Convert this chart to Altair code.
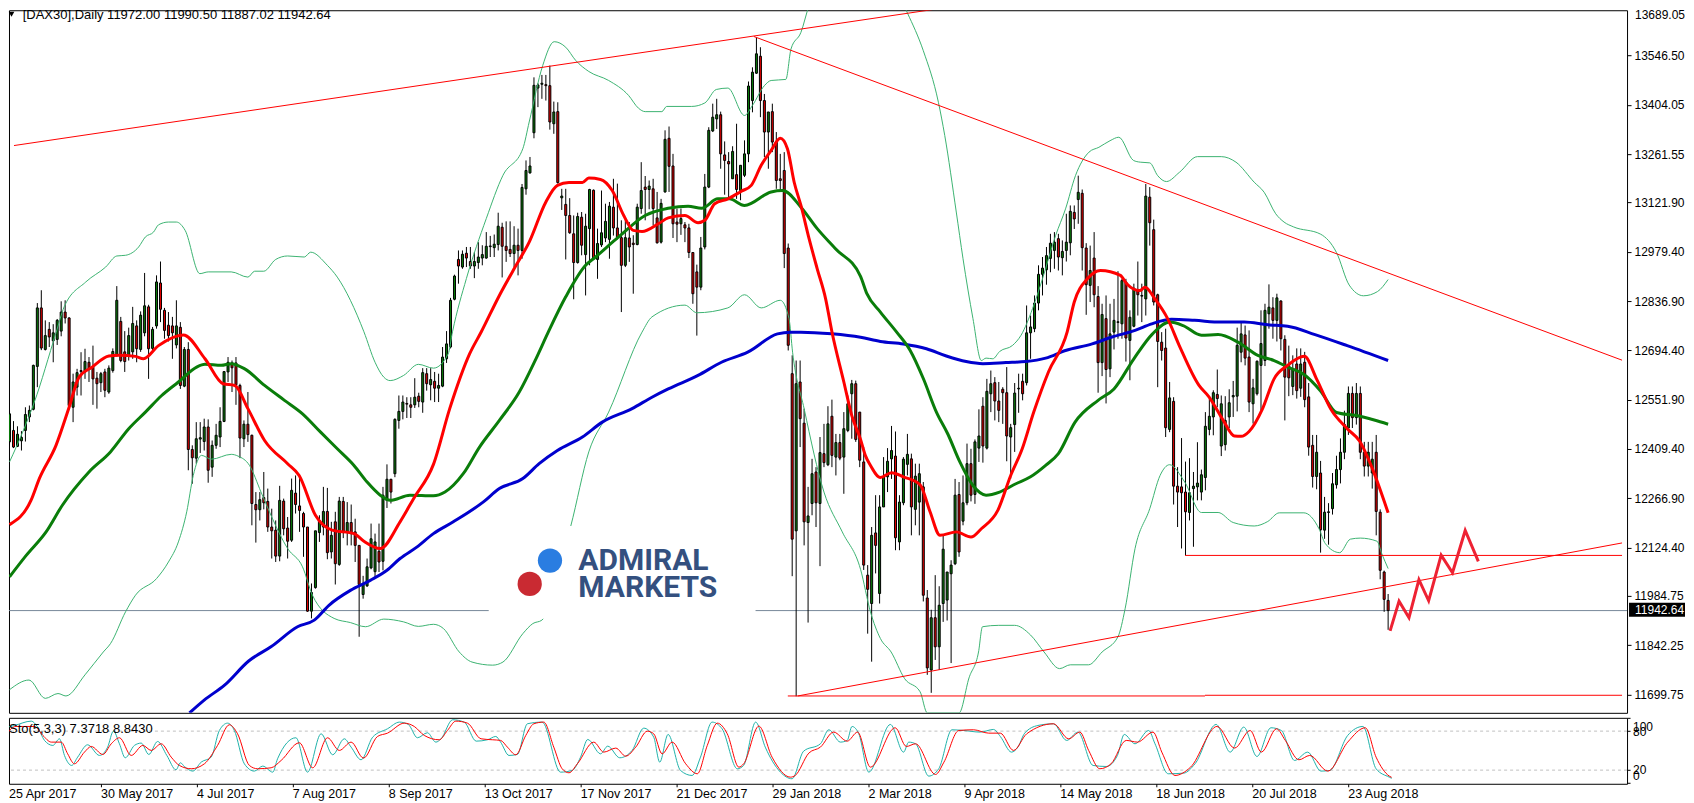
import altair as alt
import pandas as pd

# candles: (open, high, low, close), one list per date-label period (24 bars)
bars_apr17 = [(12430,12520,12420,12511),(12463,12490,12412,12415),(12417,12475,12415,12452),(12433,12461,12405,12443),(12463,12530,12431,12509),(12502,12535,12487,12521),(12524,12653,12521,12651),(12648,12831,12588,12817),(12817,12868,12695,12701),(12697,12781,12694,12737),(12755,12776,12704,12733),(12722,12770,12660,12745),(12726,12785,12710,12781),(12750,12836,12735,12805),(12805,12839,12772,12788),(12788,12790,12530,12535),(12530,12627,12487,12603),(12588,12641,12564,12630),(12633,12689,12564,12636),(12632,12699,12612,12662),(12660,12675,12603,12639),(12646,12708,12537,12612),(12614,12632,12526,12598),(12601,12632,12574,12627)]
bars_may17 = [(12632,12641,12559,12579),(12574,12651,12569,12643),(12636,12700,12630,12691),(12680,12880,12676,12839),(12778,12791,12660,12665),(12690,12750,12632,12662),(12680,12760,12665,12737),(12690,12820,12670,12772),(12765,12781,12660,12699),(12697,12807,12690,12796),(12745,12918,12735,12823),(12820,12826,12612,12699),(12700,12762,12695,12755),(12765,12911,12757,12892),(12889,12951,12776,12813),(12810,12817,12728,12752),(12767,12805,12720,12737),(12765,12791,12670,12745),(12710,12839,12700,12765),(12761,12776,12583,12593),(12591,12704,12588,12697),(12697,12718,12348,12408),(12408,12420,12309,12384),(12383,12487,12367,12439)]
bars_jul17 = [(12438,12487,12398,12442),(12431,12497,12405,12473),(12473,12495,12312,12348),(12357,12434,12329,12420),(12420,12482,12410,12449),(12444,12530,12415,12489),(12489,12633,12487,12633),(12632,12675,12603,12660),(12658,12665,12574,12644),(12658,12675,12537,12595),(12593,12598,12383,12441),(12439,12492,12415,12481),(12481,12574,12430,12451),(12449,12451,12189,12252),(12249,12285,12139,12234),(12234,12285,12203,12263),(12269,12343,12235,12254),(12258,12295,12170,12184),(12184,12237,12093,12173),(12175,12203,12083,12100),(12100,12303,12085,12261),(12259,12266,12160,12179),(12181,12213,12093,12143),(12146,12324,12141,12290)]
bars_aug17 = [(12282,12333,12223,12249),(12245,12333,12170,12232),(12223,12228,12098,12184),(12184,12184,11939,11941),(11941,12021,11920,11995),(12009,12173,12006,12173),(12168,12218,12141,12203),(12184,12300,12160,12229),(12229,12297,12091,12110),(12112,12199,12093,12160),(12199,12228,12018,12078),(12076,12271,12072,12259),(12258,12271,12152,12168),(12168,12256,12131,12197),(12197,12249,12131,12165),(12170,12208,12083,12131),(12131,12131,11867,12018),(11989,12043,11977,12018),(12014,12093,12011,12069),(12066,12194,12062,12150),(12055,12165,12040,12141),(12114,12194,12054,12083),(12085,12300,12059,12276),(12261,12365,12239,12322)]
bars_sep17 = [(12322,12323,12252,12285),(12338,12498,12328,12495),(12492,12564,12468,12518),(12518,12564,12495,12545),(12541,12559,12499,12539),(12537,12559,12499,12530),(12537,12614,12528,12559),(12562,12572,12530,12547),(12545,12643,12514,12630),(12627,12643,12578,12598),(12595,12643,12550,12610),(12605,12632,12545,12585),(12585,12627,12545,12593),(12591,12704,12588,12675),(12670,12750,12658,12713),(12704,12846,12700,12839),(12842,12913,12839,12909),(12957,12983,12887,12938),(12935,12983,12930,12972),(12975,12993,12935,12961),(12951,12993,12930,12938),(12938,12978,12903,12951),(12948,13007,12930,12964),(12961,12998,12940,12971)]
bars_oct17 = [(12961,13036,12959,12995),(12994,13025,12964,12996),(12991,13029,12964,13001),(13000,13092,12983,13053),(13050,13063,12905,12995),(12995,13067,12950,12983),(12986,13067,12964,12974),(12974,13053,12935,12998),(12998,13046,12911,12983),(12983,13175,12959,13165),(13161,13243,13144,13214),(13207,13253,13205,13227),(13323,13483,13307,13460),(13452,13466,13397,13461),(13463,13490,13421,13466),(13462,13490,13416,13459),(13459,13517,13332,13354),(13349,13413,13320,13383),(13384,13411,13176,13179),(13135,13161,13100,13140),(13116,13161,12957,13084),(13084,13134,13031,13034),(13031,13084,12842,12948),(12948,13092,12945,13081)]
bars_nov17 = [(13079,13094,12969,12998),(12971,13089,12853,13053),(13046,13161,12940,13159),(13157,13159,12957,12959),(12957,13046,12901,13003),(12999,13156,12993,13034),(13019,13118,13007,13067),(13015,13123,12959,13111),(13108,13190,13026,13048),(13048,13176,13015,13022),(13020,13070,12805,12940),(12940,13070,12935,13020),(13019,13065,12950,12993),(13004,13027,12858,13000),(13000,13118,12998,13108),(13104,13238,13089,13156),(13166,13198,13070,13159),(13159,13185,13102,13169),(13161,13190,13055,13104),(13077,13152,13003,13005),(13007,13132,13003,13119),(13152,13330,13150,13304),(13307,13341,13152,13226),(13227,13262,13019,13060)]
bars_dec17 = [(13065,13104,13007,13059),(13060,13104,13028,13075),(13057,13065,13007,13048),(13048,13060,12961,12977),(12977,12977,12829,12858),(12921,12942,12737,12877),(12877,13022,12868,12990),(12993,13204,12986,13166),(13166,13339,13163,13330),(13328,13407,13325,13368),(13363,13421,13334,13375),(13375,13384,13219,13262),(13259,13298,13144,13243),(13240,13267,13137,13233),(13190,13284,13190,13269),(13202,13349,13132,13159),(13156,13229,13128,13229),(13200,13301,13195,13262),(13262,13471,13238,13458),(13416,13512,13382,13498),(13495,13599,13493,13551),(13544,13570,13368,13416),(13416,13435,13253,13325),(13325,13383,13219,13383)]
bars_jan18 = [(13384,13407,13267,13296),(13296,13325,13161,13185),(13190,13262,13156,13185),(13214,13267,12932,12974),(12990,13003,12694,12709),(12627,12680,12042,12149),(12173,12665,11695,12598),(12603,12665,12415,12497),(12484,12526,12131,12199),(12197,12300,11908,12216),(12252,12381,12218,12338),(12343,12357,12184,12254),(12252,12444,12071,12399),(12396,12482,12357,12370),(12364,12533,12360,12482),(12504,12552,12357,12391),(12386,12453,12333,12428),(12428,12453,12377,12383),(12386,12516,12280,12468),(12463,12564,12458,12540),(12569,12609,12439,12598),(12598,12607,12430,12437),(12516,12516,12357,12377),(12372,12415,12060,12074)]
bars_mar18 = [(12045,12074,11876,12004),(11963,12184,11795,12160),(12167,12276,12050,12131),(11992,12276,11963,12242),(12242,12386,12242,12329),(12329,12412,12285,12374),(12381,12476,12323,12405),(12389,12460,12117,12153),(12141,12276,12117,12256),(12254,12386,12247,12380),(12365,12453,12333,12394),(12381,12396,12160,12242),(12235,12367,12189,12331),(12256,12367,12160,12338),(12300,12314,11969,11987),(11979,12002,11757,11777),(11771,11945,11705,11922),(11922,12045,11800,11838),(11838,12013,11771,11958),(11963,12160,11910,12120),(11973,12054,11914,12054),(12049,12088,11791,12074),(12078,12323,12074,12276),(12278,12314,12098,12112)]
bars_apr18 = [(12201,12333,12189,12254),(12254,12425,12247,12367),(12367,12410,12258,12276),(12278,12437,12251,12430),(12412,12524,12372,12447),(12533,12559,12370,12418),(12412,12612,12408,12576),(12569,12636,12516,12598),(12601,12617,12492,12548),(12548,12603,12487,12521),(12582,12588,12482,12572),(12572,12646,12374,12447),(12444,12482,12324,12471),(12480,12600,12401,12571),(12583,12627,12514,12585),(12605,12627,12550,12569),(12601,12824,12593,12745),(12745,12795,12670,12762),(12757,12853,12747,12831),(12831,12940,12810,12914),(12914,12964,12853,12932),(12927,12993,12884,12968),(12960,13031,12920,13004),(12983,13036,12930,13007)]
bars_may18 = [(13017,13031,12925,12964),(12962,13012,12911,12980),(12983,13089,12951,13007),(13005,13113,12969,13096),(13093,13113,13045,13074),(13130,13199,13060,13151),(13148,13159,12925,12991),(12990,13004,12797,12884),(12882,12997,12834,12925),(12961,13036,12819,12855),(12850,12880,12572,12659),(12659,12829,12620,12798),(12786,12853,12541,12639),(12641,12829,12617,12742),(12747,12843,12697,12781),(12775,12923,12728,12777),(12771,12901,12728,12896),(12892,12901,12662,12730),(12723,12810,12608,12790),(12764,12887,12761,12874),(12867,12951,12795,12855),(12851,12887,12776,12853),(12843,13175,12795,13140),(13137,13166,12997,13063)]
bars_jun18 = [(13043,13072,12824,12834),(12855,12858,12588,12720),(12718,12747,12665,12694),(12701,12757,12444,12471),(12466,12603,12458,12557),(12547,12559,12249,12302),(12302,12357,12184,12285),(12300,12441,12122,12283),(12285,12373,12102,12228),(12226,12383,12203,12283),(12295,12343,12127,12302),(12300,12429,12261,12311),(12285,12350,12261,12335),(12327,12516,12290,12475),(12466,12554,12449,12504),(12502,12579,12449,12572),(12567,12639,12530,12555),(12418,12564,12389,12540),(12422,12562,12405,12492),(12502,12582,12470,12543),(12560,12606,12502,12564),(12562,12760,12518,12709),(12689,12776,12660,12742),(12739,12766,12651,12672)]
bars_jul18 = [(12675,12752,12516,12545),(12540,12612,12483,12586),(12569,12665,12564,12663),(12651,12810,12521,12714),(12665,12829,12649,12810),(12800,12885,12757,12819),(12817,12848,12728,12781),(12781,12858,12720,12846),(12837,12839,12694,12728),(12726,12738,12492,12617),(12650,12708,12562,12615),(12590,12680,12565,12640),(12655,12700,12555,12578),(12585,12700,12560,12655),(12660,12690,12530,12552),(12560,12600,12390,12415),(12420,12450,12298,12330),(12330,12450,12293,12400),(12340,12375,12110,12176),(12175,12271,12150,12227),(12226,12253,12133,12228),(12237,12340,12220,12309),(12306,12390,12295,12350),(12350,12440,12310,12400)]
bars_aug18 = [(12400,12520,12380,12480),(12470,12590,12450,12570),(12570,12590,12470,12500),(12500,12600,12480,12570),(12570,12590,12380,12400),(12400,12430,12330,12360),(12360,12430,12330,12400),(12340,12430,12295,12380),(12400,12450,12160,12229),(12227,12235,12033,12059),(12054,12058,11939,11975),(11972.00,11990.50,11887.02,11942.64)]

ma_red_i = [0,5.4,7.5,11.7,15,17.5,20.8,25,27.5,31.7,33.7,37.5,43.75,49.2,53.75,56.7,60,64.2,70,72.9,77,81.2,86.7,89.2,93.3,98.3,101.7,106.7,110.8,115.8,118.75,123.3,127.5,130.8,135,137.9,140.8,144.2,145.8,148.75,151.7,154.6,157,159.2,163.3,165.8,170,173.3,175,177.5,180.8,184.2,186.7,189.2,191.7,194,195.8,197.5,199.2,201.25,203.3,205.4,207,210,212,214.2,215.4,216.7,219.2,222,225,229.2,231.7,234.2,238.3,242,244.6,248.75,252,254.9,257.8,261.5,266.2,268,271.3,274.6,279.6,281.2,284.5,285.8,288.3,291.5,294.4,299.4,301.9,305.5,308.3,310,312,315.4,318.3,321.7,325.9,329.1,332.6,336.7,339.9,342.6,347]
ma_red_p = [12191,12261,12324,12420,12530,12617,12646,12678,12680,12677,12670,12708,12739,12670,12598,12593,12526,12434,12367,12333,12218,12175,12165,12143,12122,12199,12266,12365,12526,12684,12748,12853,12940,13007,13123,13171,13179,13179,13192,13188,13156,13084,13041,13038,13060,13077,13084,13063,13070,13118,13132,13154,13171,13229,13272,13307,13277,13180,13113,13017,12930,12844,12748,12603,12506,12437,12391,12362,12327,12341,12329,12306,12228,12160,12170,12155,12179,12232,12333,12410,12516,12632,12747,12834,12901,12925,12911,12887,12867,12877,12843,12786,12709,12593,12560,12492,12447,12446,12460,12526,12612,12651,12677,12609,12524,12468,12431,12365,12225]
ma_green_i = [0,4.2,9.2,13.3,20,25.4,30,34.2,38.3,42.5,47.1,49.2,53.3,55.8,59.2,64.2,69.2,73.75,78.3,82.5,86.7,90,93.3,95.8,100.8,106.7,109.6,114.2,118.3,123.3,128.3,132.5,135.6,140,145,147.5,153.3,160,165.8,170.8,174.2,178.3,181.2,185,191.7,194.6,199.2,203.3,207.9,214.2,215.8,219.2,223.3,226.7,230,233.3,236.2,239.2,242.5,245.8,249.2,253.3,257,260.8,264,268.2,274,278,283,287.7,292,295.4,300,304.2,309.2,314.2,318.3,321.7,325.9,330,334,339,343.5,347]
ma_green_p = [12040,12102,12170,12247,12343,12401,12468,12516,12564,12603,12646,12654,12651,12656,12641,12593,12550,12511,12458,12410,12362,12314,12276,12261,12276,12274,12285,12338,12415,12492,12574,12670,12747,12849,12940,12964,13022,13084,13105,13111,13105,13132,13132,13113,13152,13156,13108,13046,12988,12908,12858,12805,12747,12694,12613,12516,12452,12372,12304,12276,12285,12309,12329,12362,12396,12487,12550,12583,12670,12742,12776,12766,12738,12740,12718,12680,12665,12646,12624,12577,12515,12506,12493,12481]
ma_blue_i = [45.3,49,54.2,60.2,65.8,72.5,76.7,80.4,85.8,90.8,95,98.3,102.5,106.7,111.7,119.2,123.3,129.2,133.3,137.9,144.2,149.2,156.7,161.7,165.8,173.3,179.2,185.8,193.3,196.6,199.2,207,214.2,219.2,225,230.8,235.8,240.8,245,250.8,255.8,260.8,265.8,272.5,277.5,283.3,287.5,292.5,298.3,305,310.8,316.7,321.7,328.6,336.7,347]
ma_blue_p = [11647,11684,11728,11797,11838,11896,11915,11958,12001,12030,12059,12093,12126,12165,12199,12256,12295,12324,12367,12405,12444,12487,12526,12559,12583,12622,12660,12689,12742,12747,12747,12742,12732,12720,12713,12699,12678,12662,12656,12659,12662,12672,12694,12713,12733,12752,12771,12784,12781,12776,12776,12768,12764,12740,12708,12665]
bb_up_i = [0,3.3,6.25,11.7,13.75,19.2,24.2,27,29.2,32.5,34.2,36.25,37.5,40,42,44.2,47.9,50,55.8,60,61.7,64,67,70,74.2,75.8,80,82.5,85.8,89.2,92,94.2,95.8,99.2,102.9,106.7,110.4,111.5,115,120,124.2,129.2,130.8,134.2,137.1,140,142.5,145.8,150.8,155.8,158.3,160,164.2,165.4,171.7,175,177.9,180.8,185,187,190,191.7,195.4,196.7,199.2,201.25,206,222,226,230,233.8,235.4,238.3,240,242.5,244.6,245.8,247.5,249.2,252.5,254.6,257.5,260,263.3,265.8,268.3,271.7,274.2,277,279.2,282.9,284.6,287,289,291.2,294.5,299,305,308.7,313.3,315.8,318.7,320.8,323.2,330,334,337.2,340.8,344.3,347]
bb_up_p = [12372,12458,12545,12745,12820,12892,12935,12967,12969,12993,13022,13036,13057,13065,13065,13041,12916,12921,12921,12906,12923,12923,12957,12967,12964,12978,12940,12906,12839,12748,12660,12617,12607,12622,12654,12643,12684,12748,12902,13075,13200,13277,13354,13517,13586,13570,13532,13500,13474,13431,13394,13384,13384,13399,13399,13409,13448,13452,13373,13402,13459,13474,13477,13565,13613,13690,13760,13760,13669,13560,13411,13315,13094,12959,12786,12665,12672,12670,12691,12709,12738,12815,12901,13026,13103,13199,13267,13281,13300,13310,13243,13238,13236,13199,13182,13209,13254,13254,13238,13180,13151,13089,13065,13051,13030,12977,12883,12852,12864,12899]
bb_lo_i = [0,4.9,9,12.2,14.2,19,23.6,25.4,29.2,31.7,37,40,42.5,44.6,46.25,48.3,50.8,55.8,57.5,60.4,63.3,65.8,70,73.75,76.25,81.7,85.8,89.6,94.2,99.2,102.9,106.7,109.2,113.2,116.4,121.6,124.2,129.2,131.7,134,141.25,145.8,150.8,159.2,161.7,170,173,180.8,185,189.2,194,196.2,197.1,200,205,209.6,214.2,216.7,219.2,221.9,225.3,229.2,231,239,241.5,243.9,244.9,249,253,257,260.4,264.3,267,271.6,275,279,280.8,283.3,287,289.6,292,295.8,300,304.2,308,313.3,316.7,319.6,325.8,329.6,331.2,334.8,337.5,340,344.2,345.4,347]
bb_lo_p = [11714,11742,11689,11703,11696,11757,11823,11847,11939,11987,12035,12083,12141,12228,12333,12391,12380,12394,12389,12362,12285,12218,12122,12069,11987,11920,11908,11896,11918,11910,11897,11903,11891,11823,11794,11785,11794,11876,11905,11915,12186,12401,12516,12747,12791,12825,12803,12817,12855,12817,12839,12786,12689,12526,12285,12170,12062,11939,11862,11823,11746,11708,11647,11647,11748,11823,11896,11900,11900,11872,11823,11775,11786,11786,11823,11867,11948,12122,12237,12333,12364,12314,12226,12226,12197,12187,12200,12225,12225,12179,12136,12110,12149,12152,12143,12107,12064]

trend_top_i = [1.125,238.9]
trend_top_p = [13286,13690]
trend_down_i = [187.35,405.875]
trend_down_p = [13601,12666]
trend_up_i = [198.4,405.875]
trend_up_p = [11696,12138]
floor_a_i = [195.9,300.9]
floor_a_p = [11696,11696]
floor_b_i = [300.9,405.875]
floor_b_p = [11698,11698]
shelf_i = [295.9,405.875]
shelf_p = [12102,12102]
zig_i = [347.5,349.75,352.25,354.75,357.2,360.35,363.2,366.4,369.7]
zig_p = [11884,11970,11922,12032,11971,12103,12052,12174,12085]

sto_main_i = [0,2.5,6.7,8.3,10,12.1,13.75,15,16.8,18.3,20.8,23.75,25.8,27.25,28.75,30.2,32.5,34.2,36.1,38.3,40.6,42.9,44,45,47.1,49.2,51.7,53.75,55.8,57.5,60,62.5,64.6,67.1,68.3,72.9,75.8,79.2,82.1,85,86.7,89.2,92.1,95.8,98.8,101,103.3,105.8,107.9,109.2,112.1,115,118,120.8,122.9,124.1,126.2,128.3,130.8,134.5,139.1,142,144.1,145.9,149.1,150.9,153.9,157,159.9,162.4,163.9,166,169.1,172,174.1,177,179.5,183.3,184.9,187.9,190.3,194.1,197,199.9,204.1,206.2,209.1,210.8,212,213.7,216.2,221.6,224.9,226.2,227.9,231.2,233.7,237,239.9,244.1,247.4,249.1,251.9,253.5,255.2,258.5,262.4,265.7,268.5,272.3,275.6,278.4,280.1,282.8,286.2,287.8,291.1,295,297.8,303.1,306.6,310,313.3,316.8,319.4,322.7,326,329.3,331.5,336,339.8,343.1,346.4,347]
sto_main_v = [85.2,88.7,95.4,86.2,65.7,58,68.2,42.6,27.2,40,59,42.6,55.4,80,60.5,39,58,61.6,44.1,64.1,42.6,20.5,31.3,25.6,18.5,32.3,40,81,92.3,81,29.7,18.5,26.2,16.9,37.4,69.8,16.9,75.9,43.6,68.2,55.4,35.9,70.8,83.6,93.9,90.3,69.8,77.5,63.1,68.2,97.5,93.9,64.6,66.7,71.8,63.1,42.6,44.1,91.3,93.9,16.9,19.5,40,67.2,45.1,56.9,39,50.3,84.6,70.8,32.3,74.9,19.5,11.8,40,93.9,83.6,22.1,27.2,93.9,55.4,16.9,6.7,49.2,60.5,82.1,63.1,65.7,87.2,75.9,16.9,90.3,47.7,63.1,60.5,10.8,22.1,82.1,81,78.5,82.6,71.8,47.7,55.4,76.9,88.7,91.3,65.7,78.5,27.2,25.6,42.6,74.9,60.5,81,60.5,14.4,15.4,29.7,90.3,47.7,86.2,41,85.2,81,34.9,47.7,18.5,19.5,73.4,87.2,22.1,9.2,7.37]
sto_sig_i = [0,1.25,2.9,7.5,9.6,11.7,14.2,15.8,17.5,20,21.7,24.6,26.7,28.75,31.7,34.6,36.7,39.2,41.7,43.75,46.7,50,53.3,56.25,58.3,61.25,63.3,66.7,69.2,73.75,77.1,80.8,83.75,86.7,89.8,93.3,95.8,100,102.5,105,108.75,110.8,112.9,115.8,119.2,122.1,124.1,125.8,127.9,130.4,132.4,134.9,137.4,139.5,141.2,143.3,147.4,149.9,152.9,155.4,157.9,160.8,162.4,164.5,167,170.4,173.3,175.8,178.3,180.8,183.7,184.9,188.7,192,196.6,197.8,201.2,204.1,207.4,210.8,213.4,216.6,222.8,225.6,227.9,232.9,235,238.7,242.4,246.2,249.1,252.4,255.7,262.4,266.2,269,271.2,274,276.8,280.6,283.4,287.3,289.5,292.8,296.7,303.3,307.7,311.6,314.4,318.2,320.4,323.8,326.5,331,336,340.4,343.1,346.4,347]
sto_sig_v = [60.5,81,87.2,87.2,73.4,63.1,63.1,45.1,29.7,47.7,56.4,44.1,60.5,69.8,42.6,58,50.3,60.5,40,27.2,22.1,29.7,58,89.8,75.9,27.2,22.1,23.6,34.9,62.1,23.6,69.8,50.3,63.1,38.5,71.8,76.9,92.3,87.2,73.4,66.7,81,95.4,92.3,68.2,66.7,65.7,55.4,43.6,73.4,91.3,93.9,55.4,22.1,15.9,29.7,63.1,47.7,53.9,41.5,55.4,80,75.9,45.1,63.1,29.7,14.4,58,92.3,75.9,24.6,29.7,87.7,40,9.2,11.8,46.2,55.4,78.5,64.6,78.5,24.6,85.2,56.4,60.5,13.3,32.3,81,82.1,76.9,76.9,50.3,75.9,91.3,68.2,78.5,50.3,22.1,29.7,65.7,63.1,78.5,47.7,11.8,24.6,87.2,53.9,81,47.7,83.6,65.7,35.9,42.6,18.5,63.1,85.2,40,10.8,8.84]

price_ticks = [13546.50,13404.05,13261.55,13121.90,12979.40,12836.90,12694.40,12551.90,12409.40,12266.90,12124.40,11984.75,11842.25,11699.75]
date_labels = ["25 Apr 2017","30 May 2017","4 Jul 2017","7 Aug 2017","8 Sep 2017","13 Oct 2017","17 Nov 2017","21 Dec 2017","29 Jan 2018","2 Mar 2018","9 Apr 2018","14 May 2018","18 Jun 2018","20 Jul 2018","23 Aug 2018"]

FONT = "Liberation Sans"
rows = (bars_apr17 + bars_may17 + bars_jul17 + bars_aug17 + bars_sep17 + bars_oct17 + bars_nov17
        + bars_dec17 + bars_jan18 + bars_mar18 + bars_apr18 + bars_may18 + bars_jun18 + bars_jul18 + bars_aug18)
candles = pd.DataFrame(rows, columns=["o", "h", "l", "c"])
candles["i"] = range(len(candles))
candles["up"] = candles["c"] >= candles["o"]

X = alt.Scale(domain=[1.125, 405.875], nice=False, zero=False)
Y = alt.Scale(domain=[11647.3, 13676.9], nice=False, zero=False)
S = alt.Scale(domain=[-1, 100.5], nice=False, zero=False)

price_axis = alt.Axis(orient="right", values=price_ticks, format=".2f", title=None, grid=False, domain=False,
                      tickSize=4, tickColor="black", labelPadding=3, labelFont=FONT, labelFontSize=12,
                      labelColor="black", labelOverlap=False)
sto_x_axis = alt.Axis(values=[24 * k for k in range(1, 15)], title=None, grid=False, domain=False, tickSize=3,
                      tickColor="black", labelAlign="left", labelBaseline="top", labelPadding=1, labelFont=FONT,
                      labelFontSize=12.5, labelColor="black", labelOverlap=False, labelFlush=False,
                      labelExpr="[" + ",".join(f"'{d}'" for d in date_labels) + "][datum.value/24]")
sto_y_axis = alt.Axis(orient="right", values=[100, 80, 20, 0], labels=False, title=None, grid=False, domain=False,
                      tickSize=3, tickColor="black")

x_enc = alt.X("i:Q", scale=X, axis=None)
y_enc = alt.Y("p:Q", scale=Y, axis=price_axis)
sx_enc = alt.X("i:Q", scale=X, axis=sto_x_axis)
sy_enc = alt.Y("v:Q", scale=S, axis=sto_y_axis)


def line(i, p, color, width, curve="linear"):
    return alt.Chart(pd.DataFrame({"i": i, "p": p})).mark_line(
        color=color, strokeWidth=width, clip=True, interpolate=curve).encode(x=x_enc, y=y_enc)


def note(text, x, y, color="black", size=12.5, font=FONT, weight="normal", align="left", baseline="middle"):
    return alt.Chart(pd.DataFrame({"t": [text]})).mark_text(
        color=color, fontSize=size, font=font, fontWeight=weight, align=align, baseline=baseline
    ).encode(text="t:N", x=alt.value(x), y=alt.value(y))


def dot(x, y, color):
    return alt.Chart(pd.DataFrame({"t": [0]})).mark_circle(size=590, color=color, opacity=1).encode(
        x=alt.value(x), y=alt.value(y))


gray = alt.Chart(pd.DataFrame({"p": [11942.64]})).mark_rule(color="#778899", strokeWidth=1).encode(y=y_enc)
wicks = alt.Chart(candles).mark_rule(color="black", strokeWidth=1, clip=True).encode(
    x=x_enc, y=alt.Y("h:Q", scale=Y, axis=price_axis), y2="l:Q")
bodies = alt.Chart(candles).mark_bar(size=2, stroke="black", strokeWidth=1, clip=True, orient="vertical").encode(
    x=x_enc, y=alt.Y("o:Q", scale=Y, axis=price_axis), y2="c:Q",
    color=alt.condition("datum.up", alt.value("#0a7a0a"), alt.value("#e00000")))
white_box = alt.Chart(pd.DataFrame({"t": [0]})).mark_rect(color="white").encode(
    x=alt.value(480), x2=alt.value(747), y=alt.value(516), y2=alt.value(609))
triangle = alt.Chart(pd.DataFrame({"t": [0]})).mark_point(
    shape="triangle-down", filled=True, color="black", size=32, opacity=1).encode(x=alt.value(2.5), y=alt.value(4))
price_box = alt.Chart(pd.DataFrame({"a": [11965], "b": [11924.5]})).mark_rect(color="black").encode(
    x=alt.value(1621), x2=alt.value(1677), y=alt.Y("a:Q", scale=Y, axis=price_axis), y2="b:Q")

main = alt.layer(
    gray, wicks, bodies,
    line(bb_up_i, bb_up_p, "#3cb371", 1, "monotone"), line(bb_lo_i, bb_lo_p, "#3cb371", 1, "monotone"),
    line(ma_blue_i, ma_blue_p, "#0000cd", 3, "monotone"), line(ma_green_i, ma_green_p, "#0a7d0a", 3, "monotone"),
    line(ma_red_i, ma_red_p, "#ff0000", 3, "monotone"),
    line(trend_top_i, trend_top_p, "#ff0000", 1), line(trend_down_i, trend_down_p, "#ff0000", 1),
    line(trend_up_i, trend_up_p, "#ff0000", 1), line(floor_a_i, floor_a_p, "#ff0000", 1),
    line(floor_b_i, floor_b_p, "#ff0000", 1), line(shelf_i, shelf_p, "#ff0000", 1),
    white_box, dot(541.3, 550.7, "#2a7de1"), dot(521, 574, "#c92a32"),
    note("ADMIRAL", 569.7, 560, color="#34507f", size=30, font="Roboto", weight="bold", baseline="alphabetic"),
    note("MARKETS", 569.7, 587, color="#34507f", size=30, font="Roboto", weight="bold", baseline="alphabetic"),
    line(zig_i, zig_p, "#ee2233", 3),
    triangle,
    note("[DAX30],Daily  11972.00 11990.50 11887.02 11942.64", 13.7, 4.7, size=13),
    note("13689.05", 1627, 0, size=12, baseline="top"),
    price_box, note("11942.64", 1627, 600.3, color="white", size=12),
).properties(width=1619, height=703)

sto_levels = alt.Chart(pd.DataFrame({"v": [80, 20]})).mark_rule(color="#c0c0c0", strokeWidth=1, strokeDash=[3, 3]).encode(
    y=sy_enc)
sto_main = alt.Chart(pd.DataFrame({"i": sto_main_i, "v": sto_main_v})).mark_line(
    color="#20b2aa", strokeWidth=1, clip=True, interpolate="monotone").encode(x=sx_enc, y=sy_enc)
sto_sig = alt.Chart(pd.DataFrame({"i": sto_sig_i, "v": sto_sig_v})).mark_line(
    color="#ff0000", strokeWidth=1, clip=True, interpolate="monotone").encode(x=sx_enc, y=sy_enc)

sub = alt.layer(
    sto_levels, sto_main, sto_sig,
    note("Sto(5,3,3) 7.3718 8.8430", 0, 10.7, size=13),
    note("100", 1625, 8.7, size=12), note("80", 1625, 14, size=12), note("20", 1625, 52, size=12), note("0", 1625, 58, size=12),
    note(date_labels[0], 0, 76),
).properties(width=1619, height=66)

chart = alt.vconcat(main, sub, spacing=3, padding=0, background="white").configure_view(
    stroke="black", strokeWidth=1)
chart.save("out.html", embed_options={"renderer": "svg", "actions": False})
